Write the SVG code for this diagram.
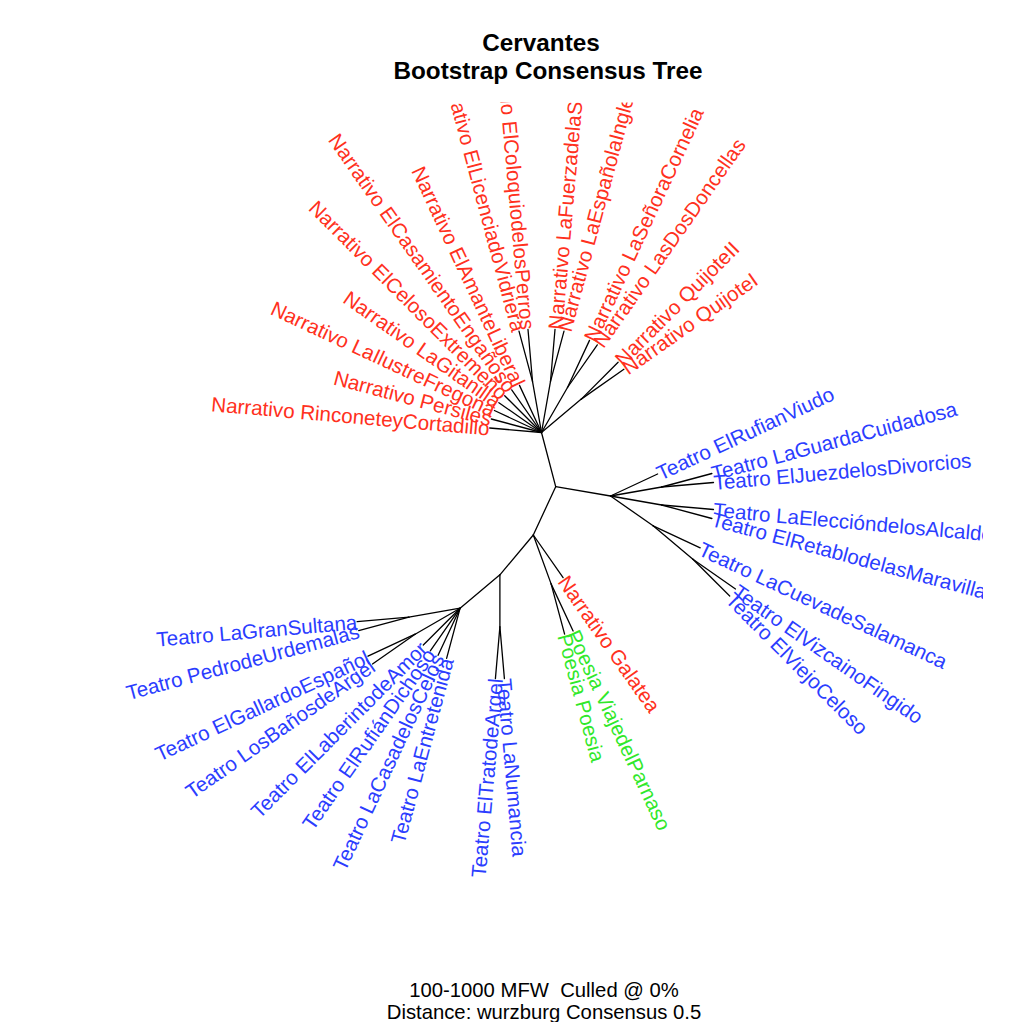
<svg xmlns="http://www.w3.org/2000/svg" width="1017" height="1022" viewBox="0 0 1017 1022">
<style>
.lb{font-family:"Liberation Sans",Arial,Helvetica,sans-serif;font-size:20.6px;dominant-baseline:central}
.e{text-anchor:end}
.n{fill:#ff3020}
.t{fill:#2b3dff}
.p{fill:#30e82a}
.ttl{font-family:"Liberation Sans",Arial,Helvetica,sans-serif;font-size:24.3px;font-weight:bold;text-anchor:middle;fill:#000}
.sub{font-family:"Liberation Sans",Arial,Helvetica,sans-serif;font-size:20.3px;text-anchor:middle;fill:#000;white-space:pre}
#edges line{stroke:#000;stroke-width:1.3;stroke-linecap:round}
</style>
<defs>
<clipPath id="plot"><rect x="0" y="102.5" width="983" height="900"/></clipPath>
</defs>
<rect width="1017" height="1022" fill="#fff"/>
<g id="title">
<text class="ttl" x="541" y="51">Cervantes</text>
<text class="ttl" x="548" y="78.5">Bootstrap Consensus Tree</text>
</g>
<g id="edges">
<line x1="555.7" y1="486.7" x2="541.5" y2="432.5"/>
<line x1="555.7" y1="486.7" x2="610.5" y2="496"/>
<line x1="555.7" y1="486.7" x2="533.3" y2="535"/>
<line x1="541.5" y1="432.5" x2="489.7" y2="428.0"/>
<line x1="541.5" y1="432.5" x2="491.3" y2="419.0"/>
<line x1="541.5" y1="432.5" x2="494.4" y2="410.5"/>
<line x1="541.5" y1="432.5" x2="498.9" y2="402.7"/>
<line x1="541.5" y1="432.5" x2="504.7" y2="395.7"/>
<line x1="541.5" y1="432.5" x2="511.7" y2="389.9"/>
<line x1="541.5" y1="432.5" x2="519.5" y2="385.4"/>
<line x1="541.5" y1="432.5" x2="532.5" y2="381.3"/>
<line x1="532.5" y1="381.3" x2="519.0" y2="331.1"/>
<line x1="532.5" y1="381.3" x2="528.0" y2="329.5"/>
<line x1="541.5" y1="432.5" x2="550.5" y2="381.3"/>
<line x1="550.5" y1="381.3" x2="555.0" y2="329.5"/>
<line x1="550.5" y1="381.3" x2="564.0" y2="331.1"/>
<line x1="541.5" y1="432.5" x2="567.5" y2="387.5"/>
<line x1="567.5" y1="387.5" x2="589.5" y2="340.4"/>
<line x1="567.5" y1="387.5" x2="597.3" y2="344.9"/>
<line x1="541.5" y1="432.5" x2="581.3" y2="399.1"/>
<line x1="581.3" y1="399.1" x2="618.1" y2="362.3"/>
<line x1="581.3" y1="399.1" x2="623.9" y2="369.3"/>
<line x1="610.5" y1="496" x2="657.6" y2="474.0"/>
<line x1="610.5" y1="496" x2="661.7" y2="487.0"/>
<line x1="661.7" y1="487.0" x2="711.9" y2="473.5"/>
<line x1="661.7" y1="487.0" x2="713.5" y2="482.5"/>
<line x1="610.5" y1="496" x2="661.7" y2="505.0"/>
<line x1="661.7" y1="505.0" x2="713.5" y2="509.5"/>
<line x1="661.7" y1="505.0" x2="711.9" y2="518.5"/>
<line x1="610.5" y1="496" x2="653.1" y2="525.8"/>
<line x1="653.1" y1="525.8" x2="700.2" y2="547.8"/>
<line x1="653.1" y1="525.8" x2="692.9" y2="559.2"/>
<line x1="692.9" y1="559.2" x2="735.5" y2="589.0"/>
<line x1="692.9" y1="559.2" x2="729.7" y2="596.0"/>
<line x1="533.3" y1="535" x2="563.1" y2="577.6"/>
<line x1="533.3" y1="535" x2="551.1" y2="583.9"/>
<line x1="551.1" y1="583.9" x2="573.1" y2="631.0"/>
<line x1="551.1" y1="583.9" x2="564.6" y2="634.1"/>
<line x1="533.3" y1="535" x2="499.9" y2="574.8"/>
<line x1="499.9" y1="574.8" x2="499.9" y2="626.8"/>
<line x1="499.9" y1="626.8" x2="504.4" y2="678.6"/>
<line x1="499.9" y1="626.8" x2="495.4" y2="678.6"/>
<line x1="499.9" y1="574.8" x2="460.1" y2="608.2"/>
<line x1="460.1" y1="608.2" x2="446.6" y2="658.4"/>
<line x1="460.1" y1="608.2" x2="438.1" y2="655.3"/>
<line x1="460.1" y1="608.2" x2="430.3" y2="650.8"/>
<line x1="460.1" y1="608.2" x2="423.3" y2="645.0"/>
<line x1="460.1" y1="608.2" x2="415.1" y2="634.2"/>
<line x1="415.1" y1="634.2" x2="372.5" y2="664.0"/>
<line x1="415.1" y1="634.2" x2="368.0" y2="656.2"/>
<line x1="460.1" y1="608.2" x2="408.9" y2="617.2"/>
<line x1="408.9" y1="617.2" x2="358.7" y2="630.7"/>
<line x1="408.9" y1="617.2" x2="357.1" y2="621.7"/>
</g>
<g id="labels" clip-path="url(#plot)">
<g id="n-rinconete"><text class="lb n e" transform="translate(489.7 428.0) rotate(5)">Narrativo RinconeteyCortadillo</text></g>
<g id="n-persiles"><text class="lb n e" transform="translate(491.3 419.0) rotate(15)">Narrativo Persiles</text></g>
<g id="n-fregona"><text class="lb n e" transform="translate(494.4 410.5) rotate(25)">Narrativo LaIlustreFregona</text></g>
<g id="n-gitanilla"><text class="lb n e" transform="translate(498.9 402.7) rotate(35)">Narrativo LaGitanilla</text></g>
<g id="n-celoso"><text class="lb n e" transform="translate(504.7 395.7) rotate(45)">Narrativo ElCelosoExtremeño</text></g>
<g id="n-casamiento"><text class="lb n e" transform="translate(511.7 389.9) rotate(55)">Narrativo ElCasamientoEngañoso</text></g>
<g id="n-amante"><text class="lb n e" transform="translate(519.5 385.4) rotate(65)">Narrativo ElAmanteLiberal</text></g>
<g id="n-licenciado"><text class="lb n e" transform="translate(519.0 331.1) rotate(75)">ativo ElLicenciadoVidriera</text></g>
<g id="n-coloquio"><text class="lb n e" transform="translate(528.0 329.5) rotate(85)">io ElColoquiodelosPerros</text></g>
<g id="n-fuerza"><text class="lb n" transform="translate(555.0 329.5) rotate(-85)">Narrativo LaFuerzadelaS</text></g>
<g id="n-espanola"><text class="lb n" transform="translate(564.0 331.1) rotate(-75)">Narrativo LaEspañolaIngle</text></g>
<g id="n-cornelia"><text class="lb n" transform="translate(589.5 340.4) rotate(-65)">Narrativo LaSeñoraCornelia</text></g>
<g id="n-dosdoncellas"><text class="lb n" transform="translate(597.3 344.9) rotate(-55)">Narrativo LasDosDoncellas</text></g>
<g id="n-quijote2"><text class="lb n" transform="translate(618.1 362.3) rotate(-45)">Narrativo QuijoteII</text></g>
<g id="n-quijote1"><text class="lb n" transform="translate(623.9 369.3) rotate(-35)">Narrativo QuijoteI</text></g>
<g id="t-rufianviudo"><text class="lb t" transform="translate(657.6 474.0) rotate(-25)">Teatro ElRufianViudo</text></g>
<g id="t-guarda"><text class="lb t" transform="translate(711.9 473.5) rotate(-15)">Teatro LaGuardaCuidadosa</text></g>
<g id="t-juez"><text class="lb t" transform="translate(713.5 482.5) rotate(-5)">Teatro ElJuezdelosDivorcios</text></g>
<g id="t-eleccion"><text class="lb t" transform="translate(713.5 509.5) rotate(5)">Teatro LaEleccióndelosAlcalde</text></g>
<g id="t-retablo"><text class="lb t" transform="translate(711.9 518.5) rotate(15)">Teatro ElRetablodelasMaravilla</text></g>
<g id="t-cueva"><text class="lb t" transform="translate(700.2 547.8) rotate(25)">Teatro LaCuevadeSalamanca</text></g>
<g id="t-vizcaino"><text class="lb t" transform="translate(735.5 589.0) rotate(35)">Teatro ElVizcainoFingido</text></g>
<g id="t-viejo"><text class="lb t" transform="translate(729.7 596.0) rotate(45)">Teatro ElViejoCeloso</text></g>
<g id="n-galatea"><text class="lb n" transform="translate(563.1 577.6) rotate(55)">Narrativo Galatea</text></g>
<g id="p-viaje"><text class="lb p" transform="translate(573.1 631.0) rotate(65)">Poesia ViajedelParnaso</text></g>
<g id="p-poesia"><text class="lb p" transform="translate(564.6 634.1) rotate(75)">Poesia Poesia</text></g>
<g id="t-numancia"><text class="lb t" transform="translate(504.4 678.6) rotate(85)">Teatro LaNumancia</text></g>
<g id="t-trato"><text class="lb t e" transform="translate(495.4 678.6) rotate(-85)">Teatro ElTratodeArgel</text></g>
<g id="t-entretenida"><text class="lb t e" transform="translate(446.6 658.4) rotate(-75)">Teatro LaEntretenida</text></g>
<g id="t-casa"><text class="lb t e" transform="translate(438.1 655.3) rotate(-65)">Teatro LaCasadelosCelos</text></g>
<g id="t-rufiandichoso"><text class="lb t e" transform="translate(430.3 650.8) rotate(-55)">Teatro ElRufiánDichoso</text></g>
<g id="t-laberinto"><text class="lb t e" transform="translate(423.3 645.0) rotate(-45)">Teatro ElLaberintodeAmor</text></g>
<g id="t-banos"><text class="lb t e" transform="translate(372.5 664.0) rotate(-35)">Teatro LosBañosdeArgel</text></g>
<g id="t-gallardo"><text class="lb t e" transform="translate(368.0 656.2) rotate(-25)">Teatro ElGallardoEspañol</text></g>
<g id="t-pedro"><text class="lb t e" transform="translate(358.7 630.7) rotate(-15)">Teatro PedrodeUrdemalas</text></g>
<g id="t-sultana"><text class="lb t e" transform="translate(357.1 621.7) rotate(-5)">Teatro LaGranSultana</text></g>
</g>
<g id="footer">
<text class="sub" x="544" y="997">100-1000 MFW  Culled @ 0%</text>
<text class="sub" x="544" y="1019">Distance: wurzburg Consensus 0.5</text>
</g>
</svg>
